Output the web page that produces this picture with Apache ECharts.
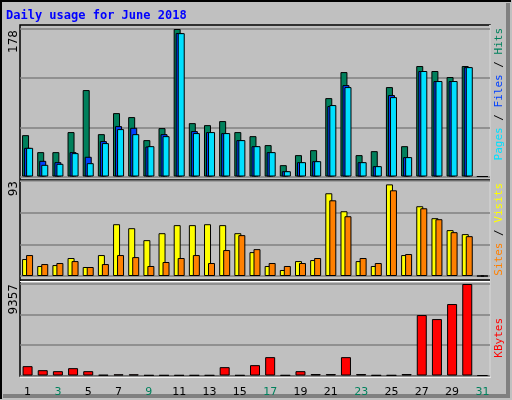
<!DOCTYPE html><html><head><meta charset="utf-8">
<script src="https://cdn.jsdelivr.net/npm/echarts@6/dist/echarts.min.js"></script>
<style>html,body{margin:0;padding:0;background:#c0c0c0}#c{width:512px;height:400px}</style></head><body><div id="c"></div>
<script>
const days = Array.from({length:31},(_,i)=>String(i+1));
const weekend = ['2','3','9','10','16','17','23','24','30','31'];
const hits  = [49.9,29.4,29.4,53.6,104.3,51.1,76.5,71.7,43.9,58.4,178,64.4,62,66.9,53.6,48.7,37.9,13.7,25.8,31.8,94.6,126,25.8,30.6,107.9,36.6,133.3,127.3,120,133.3,0];
const files = [34.6,18.9,17.3,29.4,23.8,42.7,60.8,58.8,36.2,51.1,173.2,54.8,53.6,52.4,43.9,36.6,29.4,6.4,17.3,18.5,85,110.3,17.3,12.5,98.3,23.4,127.3,115.2,115.2,132,0];
const pages = [34.6,14.1,15.3,28.2,16.1,40.3,57.2,51.1,36.6,48.7,173,52.4,53.6,52.4,43.9,36.6,29.4,6.4,17.3,18.5,86.2,107.9,17.3,12.5,95.8,23.4,127.3,115.2,115.2,132,0];
const sites = [16.6,9.8,10.7,17.6,8.8,20.5,50.7,46.8,35.1,41.9,49.8,49.8,50.7,49.8,41.9,23.4,9.8,5.9,14.6,15.6,81,63.4,14.6,9.8,89.7,20.5,68.3,56.6,44.9,41,0];
const visits= [20.5,11.7,12.7,14.6,8.8,11.7,20.5,18.5,9.8,13.7,17.6,20.5,12.7,25.4,40,26.3,12.7,9.8,12.7,17.6,74.1,58.5,17.6,12.7,83.9,21.5,66.3,55.6,42.9,39,0];
const kbytes= [956,546,444,751,444,60,120,120,30,30,30,30,30,854,30,1059,1878,30,444,150,150,1878,150,30,30,150,6181,5771,7308,9357,0];
const maxes = [178,93,9357];

const L=20,R=22;
const grids=[{left:L,right:R,top:29,height:147.5},{left:L,right:R,top:181,height:95},{left:L,right:R,top:284,height:91.5}];
const xAxes=grids.map((g,i)=>({gridIndex:i,type:'category',data:days,axisLine:{show:false},axisTick:{show:false},
  axisLabel:{show:i===2,margin:11,fontFamily:'DejaVu Sans',fontSize:11,
   color:(v)=>weekend.includes(v)?'#00805c':'#000'}}));
const yAxes=maxes.map((m,i)=>({gridIndex:i,type:'value',min:0,max:m,interval:m/3,axisLabel:{show:false},axisLine:{show:false},axisTick:{show:false},
  splitLine:{lineStyle:{color:'#808080',width:1.5}}}));
const bs=(c)=>({color:c,borderColor:'#000',borderWidth:1});
const series=[
 {type:'bar',xAxisIndex:0,yAxisIndex:0,data:hits,barWidth:7,barGap:'-71%',itemStyle:bs('#00805c')},
 {type:'bar',xAxisIndex:0,yAxisIndex:0,data:files,barWidth:7,barGap:'-71%',itemStyle:bs('#0040ff')},
 {type:'bar',xAxisIndex:0,yAxisIndex:0,data:pages,barWidth:7,barGap:'-71%',itemStyle:bs('#00e0ff')},
 {type:'bar',xAxisIndex:1,yAxisIndex:1,data:sites,barWidth:7,barGap:'-43%',itemStyle:bs('#ffff00')},
 {type:'bar',xAxisIndex:1,yAxisIndex:1,data:visits,barWidth:7,barGap:'-43%',itemStyle:bs('#ff8000')},
 {type:'bar',xAxisIndex:2,yAxisIndex:2,data:kbytes,barWidth:10,itemStyle:bs('#ff0000')}
];
const rot=(x,y,text,rich)=>({type:'text',x,y,rotation:Math.PI/2,style:{text,rich,fontFamily:'DejaVu Sans Mono',fontSize:11,align:'right',verticalAlign:'middle'}});
const graphic=[
 {type:'rect',shape:{x:0,y:0,width:512,height:400},style:{fill:'#c0c0c0',stroke:null},silent:true,z:-10},
 {type:'polyline',shape:{points:[[1,399],[1,1],[511,1]]},style:{stroke:'#000',fill:null,lineWidth:2},z:-9},
 {type:'polyline',shape:{points:[[3,396],[508,396],[508,3]]},style:{stroke:'#808080',fill:null,lineWidth:4},z:-9},
 {type:'rect',shape:{x:20,y:25,width:470,height:351},style:{fill:null,stroke:'#000',lineWidth:1.5},z:-8},
 {type:'polyline',shape:{points:[[490,25],[490,377],[20,377]]},style:{stroke:'#fff',fill:null,lineWidth:1.5},z:-7},
 {type:'line',shape:{x1:20,y1:180,x2:490,y2:180},style:{stroke:'#000',lineWidth:1.5}},
 {type:'line',shape:{x1:20,y1:181.5,x2:490,y2:181.5},style:{stroke:'#fff',lineWidth:1}},
 {type:'line',shape:{x1:20,y1:280,x2:490,y2:280},style:{stroke:'#000',lineWidth:1.5}},
 {type:'line',shape:{x1:20,y1:281.5,x2:490,y2:281.5},style:{stroke:'#fff',lineWidth:1}},
 {type:'text',x:6,y:10,style:{text:'Daily usage for June 2018',fill:'#0000ff',font:'bold 12px "DejaVu Sans Mono"'}},
 {type:'text',x:14,y:30,rotation:Math.PI/2,style:{text:'178',fill:'#000',fontFamily:'DejaVu Sans',fontSize:12,align:'right',verticalAlign:'middle'}},
 {type:'text',x:14,y:181,rotation:Math.PI/2,style:{text:'93',fill:'#000',fontFamily:'DejaVu Sans',fontSize:12,align:'right',verticalAlign:'middle'}},
 {type:'text',x:14,y:284,rotation:Math.PI/2,style:{text:'9357',fill:'#000',fontFamily:'DejaVu Sans',fontSize:12,align:'right',verticalAlign:'middle'}},
 rot(499,28,'{a|Pages}{s| / }{b|Files}{s| / }{c|Hits}',{a:{fill:'#00e0ff'},b:{fill:'#0040ff'},c:{fill:'#00805c'},s:{fill:'#000'}}),
 rot(499,183,'{a|Sites}{s| / }{b|Visits}',{a:{fill:'#ff8000'},b:{fill:'#ffff00'},s:{fill:'#000'}}),
 rot(499,318,'{a|KBytes}',{a:{fill:'#ff0000'}})
];
const chart=echarts.init(document.getElementById('c'),null,{renderer:'canvas'});
chart.setOption({animation:false,backgroundColor:'#c0c0c0',grid:grids,xAxis:xAxes,yAxis:yAxes,series,graphic});
</script></body></html>
